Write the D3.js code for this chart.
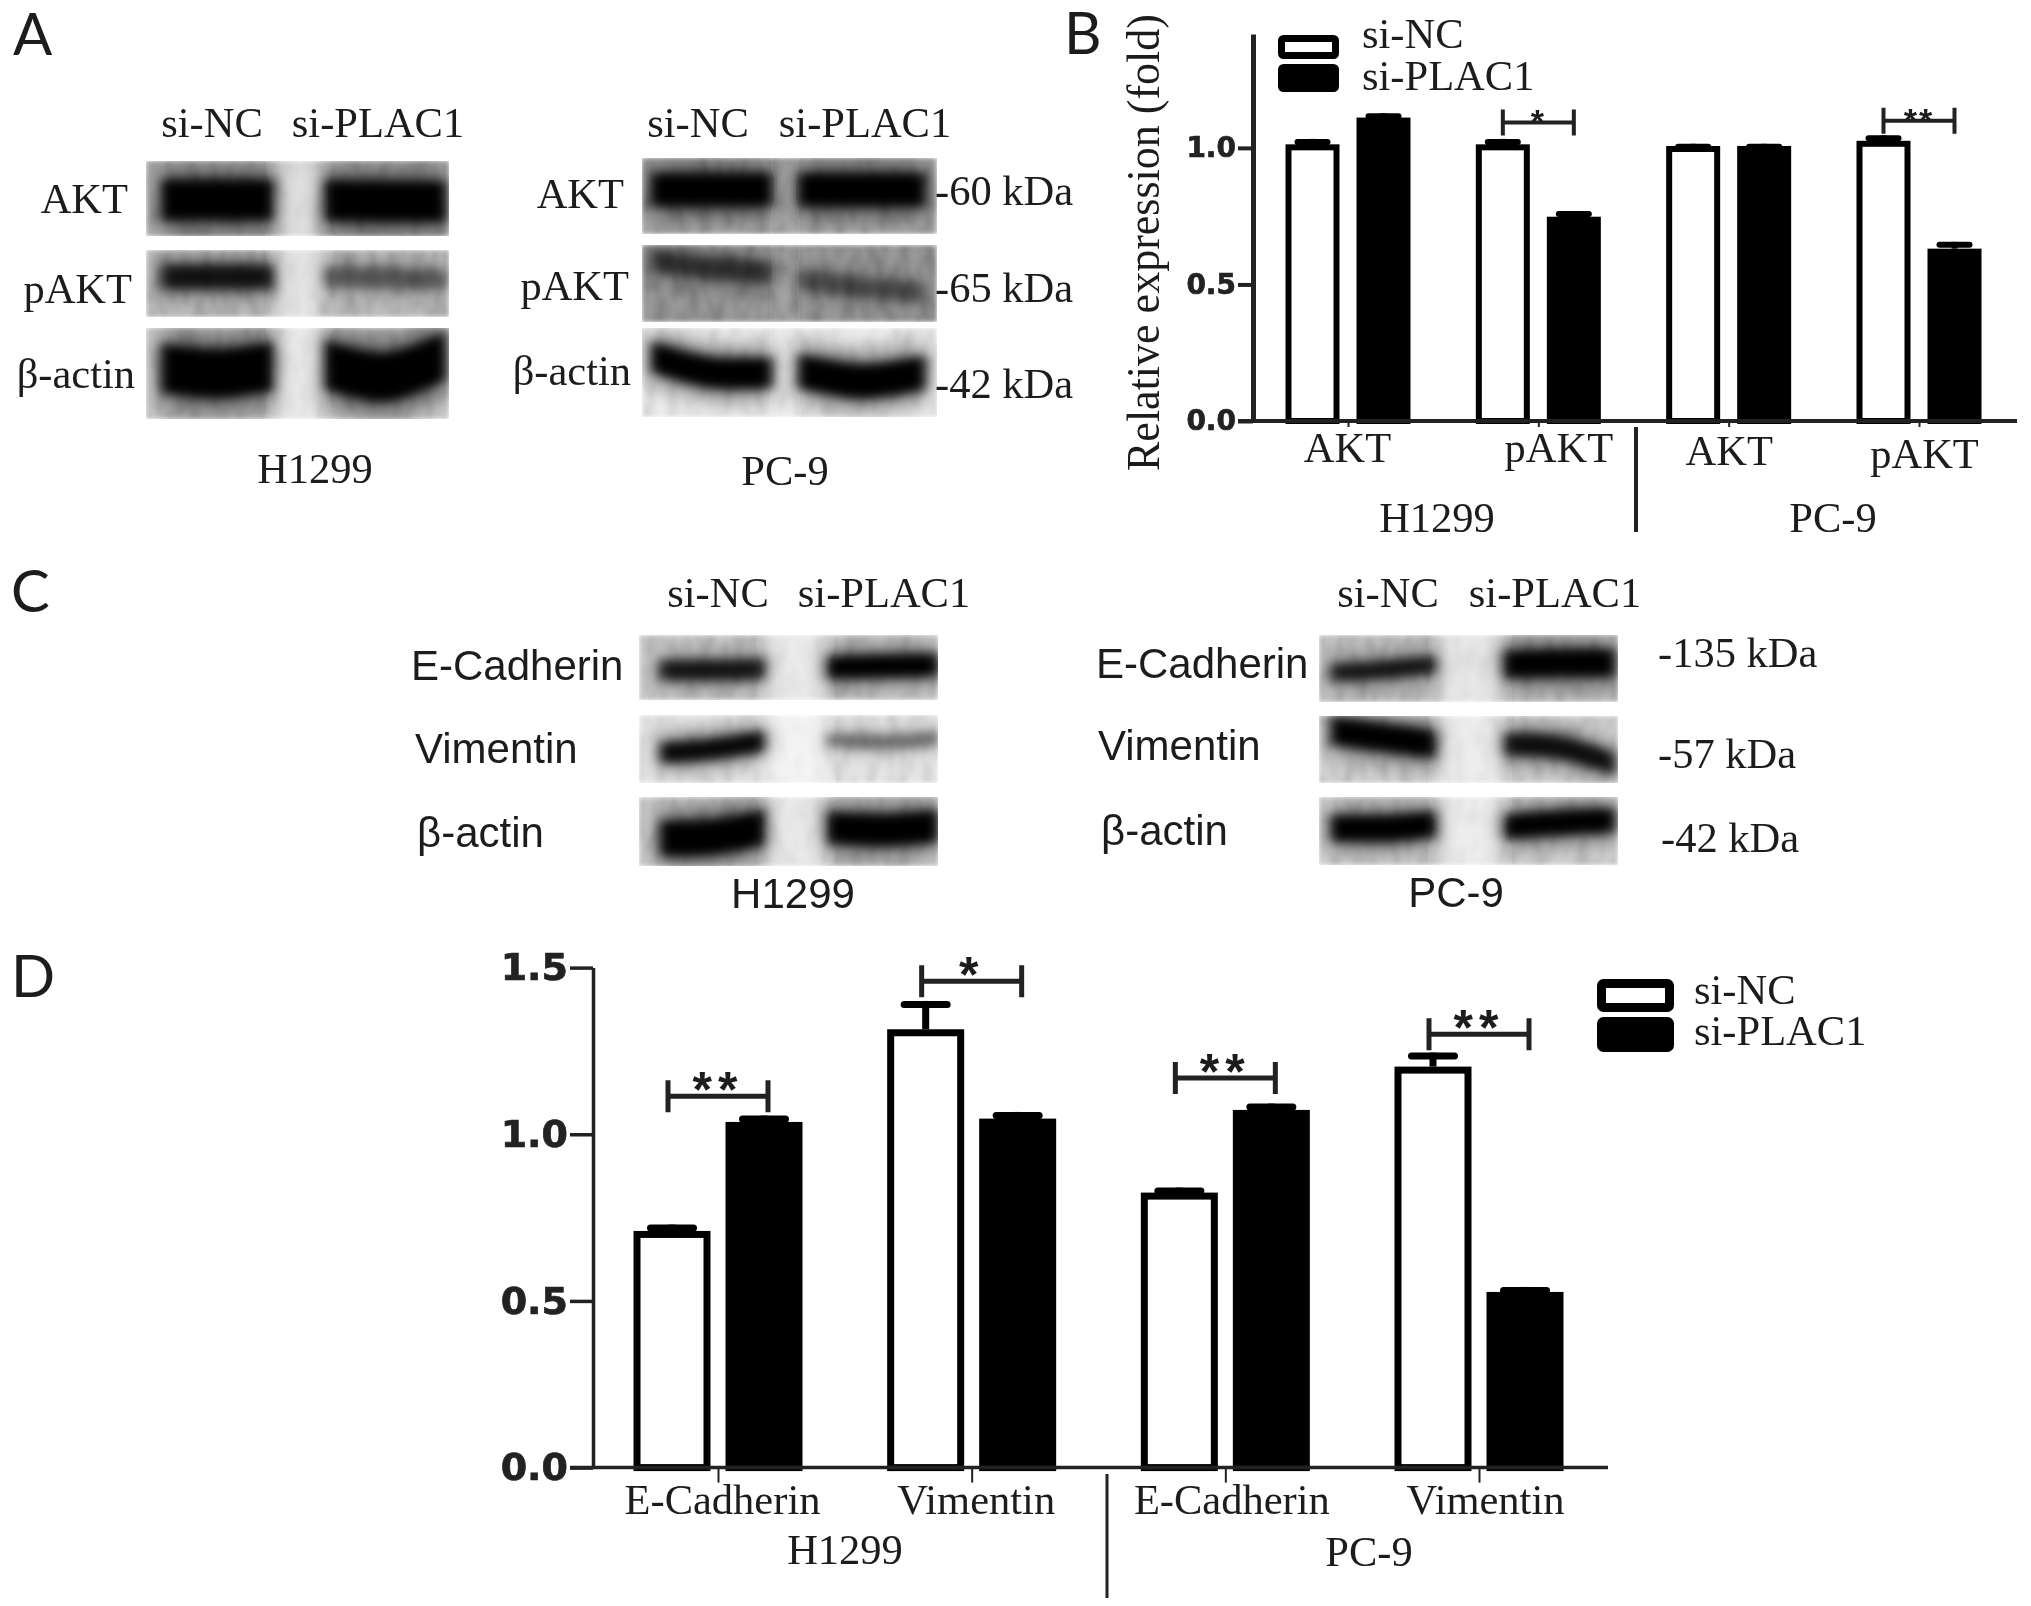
<!DOCTYPE html>
<html>
<head>
<meta charset="utf-8">
<title>PLAC1 knockdown</title>
<script src="https://d3js.org/d3.v7.min.js"></script>
<style>
	html, body { margin: 0; padding: 0; background: #fff; }
	svg { display: block; }
	text { fill: #1c1c1c; }
	.serif { font-family: "Liberation Serif", serif; font-size: 42.5px; }
	.sans { font-family: "Liberation Sans", sans-serif; font-size: 42px; }
	.letter { font-family: "Lato", sans-serif; font-size: 58px; }
	.tick text { font-family: "DejaVu Sans", sans-serif; font-weight: bold; fill: #222; stroke: #222; stroke-width: 0.7px; }
</style>
</head>
<body>
<svg width="2031" height="1606"></svg>
<script>
// ---- data ----
var series = ["si-NC", "si-PLAC1"];

// panel B
var groupsB = ["AKT", "pAKT", "AKT ", "pAKT "];
var nameB = [1.013, 1.013, 1.007, 1.026];
var plac1B = [1.111, 0.748, 1.007, 0.631];
var nameErrB = [0.020, 0.020, 0.008, 0.020];
var plac1ErrB = [0.016, 0.021, 0.008, 0.025];
var sigB = ["", "*", "", "**"];
var sigLevelB = [null, 1.093, null, 1.099];
var ticksB = [0, 0.5, 1];

// panel D
var groupsD = ["E-Cadherin", "Vimentin", "E-Cadherin ", "Vimentin "];
var nameD = [0.71, 1.315, 0.825, 1.203];
var plac1D = [1.037, 1.047, 1.073, 0.527];
var nameErrD = [0.019, 0.085, 0.015, 0.042];
var plac1ErrD = [0.019, 0.020, 0.019, 0.015];
var sigD = ["**", "*", "**", "**"];
var sigLevelD = [1.114, 1.459, 1.169, 1.30];
var ticksD = [0, 0.5, 1, 1.5];

// blot band density, rows x lanes (0-1), and membrane background per row
var densityA1 = [[1, 1], [0.85, 0.45], [1, 1]];
var backA1 = [0.30, 0.26, 0.20];
var densityA2 = [[1, 1], [0.6, 0.42], [1, 1]];
var backA2 = [0.34, 0.40, 0.08];
var densityC1 = [[0.85, 1], [0.95, 0.45], [1, 1]];
var backC1 = [0.20, 0.10, 0.20];
var densityC2 = [[0.85, 1], [1, 0.9], [1, 1]];
var backC2 = [0.24, 0.18, 0.18];

// ---- blot geometry: fractions of panel width / row height ----
// band = [laneStart, laneEnd, centreLeft, centreMid, centreRight, thickness]
var shapeA1 = [
	[[.05, .42, .52, .52, .52, .42], [.59, .99, .53, .54, .54, .42]],
	[[.05, .42, .40, .40, .40, .28], [.59, .99, .40, .42, .44, .24]],
	[[.05, .42, .44, .50, .42, .42], [.59, .99, .40, .54, .30, .42]]
];
var shapeA2 = [
	[[.03, .44, .42, .42, .42, .34], [.53, .96, .42, .42, .42, .34]],
	[[.03, .44, .20, .30, .36, .22], [.53, .96, .44, .55, .62, .20]],
	[[.03, .44, .32, .50, .50, .27], [.53, .96, .48, .60, .50, .30]]
];
var shapeC1 = [
	[[.07, .42, .54, .54, .52, .24], [.63, 1.0, .50, .48, .46, .27]],
	[[.07, .42, .56, .50, .38, .24], [.63, 1.0, .36, .40, .34, .16]],
	[[.07, .42, .60, .58, .44, .40], [.63, 1.0, .44, .48, .42, .36]]
];
var shapeC2 = [
	[[.04, .39, .56, .52, .44, .20], [.62, .99, .44, .42, .42, .32]],
	[[.04, .39, .22, .32, .42, .32], [.62, .99, .42, .47, .72, .26]],
	[[.04, .39, .46, .46, .40, .30], [.62, .99, .44, .38, .34, .28]]
];

var svg = d3.select("svg");
var root = svg.append("g").attr("filter", "url(#soft)");

// ---- filters ----
var defs = svg.append("defs");
function blurFilter(id, dev) {
	defs.append("filter").attr("id", id)
		.attr("x", "-30%").attr("y", "-80%").attr("width", "160%").attr("height", "260%")
		.append("feGaussianBlur").attr("stdDeviation", dev);
}
blurFilter("band", "6 5");
blurFilter("halo", "12 10");
blurFilter("edge", "2");
blurFilter("lane", "7 0");
defs.append("filter").attr("id", "soft")
	.attr("filterUnits", "userSpaceOnUse")
	.attr("x", 0).attr("y", 0).attr("width", 2031).attr("height", 1606)
	.append("feGaussianBlur").attr("stdDeviation", 0.6);

var grain = defs.append("filter").attr("id", "grain")
	.attr("x", 0).attr("y", 0).attr("width", "100%").attr("height", "100%");
grain.append("feTurbulence")
	.attr("type", "fractalNoise")
	.attr("baseFrequency", "0.09 0.04")
	.attr("numOctaves", 2)
	.attr("seed", 4);
grain.append("feColorMatrix")
	.attr("values", "0 0 0 0 0  0 0 0 0 0  0 0 0 0 0  1.6 0 0 0 -0.62");

// ---- western blots ----
var clipId = 0;
function drawBlot(x0, x1, rowEdges, density, back, shape, gapLight) {
	var fx = d3.scaleLinear().range([x0, x1]);
	var panel = root.append("g");

	var rows = panel.selectAll("g.row")
		.data(rowEdges)
		.enter().append("g")
		.attr("class", "row")
		.attr("filter", "url(#edge)");

	rows.each(function (edge, r) {
		var row = d3.select(this);
		var fy = d3.scaleLinear().range(edge);
		var id = "clip" + (clipId++);
		defs.append("clipPath").attr("id", id).append("rect")
			.attr("x", x0).attr("y", edge[0])
			.attr("width", x1 - x0).attr("height", edge[1] - edge[0]);
		row.attr("clip-path", "url(#" + id + ")");

		row.append("rect")
			.attr("x", x0).attr("y", edge[0])
			.attr("width", x1 - x0).attr("height", edge[1] - edge[0])
			.attr("fill", "#000")
			.attr("opacity", back[r]);
		row.append("rect")
			.attr("x", x0).attr("y", edge[0])
			.attr("width", x1 - x0).attr("height", edge[1] - edge[0])
			.attr("filter", "url(#grain)")
			.attr("opacity", 0.1 + back[r] * 0.5);

		// the empty space between the two lanes is paler than the membrane
		row.append("rect")
			.attr("x", fx(shape[r][0][1]) + 4)
			.attr("width", fx(shape[r][1][0]) - fx(shape[r][0][1]) - 8)
			.attr("y", edge[0]).attr("height", edge[1] - edge[0])
			.attr("fill", "#fff")
			.attr("opacity", gapLight)
			.attr("filter", "url(#lane)");

		shape[r].forEach(function (b, lane) {
			var pts = [[b[0], b[2]], [(b[0] + b[1]) / 2, b[3]], [b[1], b[4]]];
			var area = function (k) {
				return d3.area()
					.curve(d3.curveCatmullRom)
					.x(function (p) { return fx(p[0]); })
					.y0(function (p) { return fy(p[1] - b[5] * k / 2); })
					.y1(function (p) { return fy(p[1] + b[5] * k / 2); })(pts);
			};
			row.append("path")
				.attr("d", area(2.2))
				.attr("fill", "#000")
				.attr("opacity", density[r][lane] * 0.45)
				.attr("filter", "url(#halo)");
			row.append("path")
				.attr("d", area(1.3))
				.attr("fill", "#000")
				.attr("opacity", density[r][lane])
				.attr("filter", "url(#band)");
		});
	});
}

drawBlot(146, 449, [[161, 236], [250, 317], [328, 419]], densityA1, backA1, shapeA1, 0.6);
drawBlot(642, 937, [[158, 234], [245, 322], [328, 417]], densityA2, backA2, shapeA2, 0.15);
drawBlot(639, 938, [[635, 700], [715, 783], [797, 866]], densityC1, backC1, shapeC1, 0.6);
drawBlot(1319, 1618, [[635, 702], [716, 783], [797, 865]], densityC2, backC2, shapeC2, 0.6);

// ---- bar panels ----
function drawBars(c) {
	var g = root.append("g");
	var y = d3.scaleLinear().domain([0, c.top]).range([c.y0, c.yTop]);
	var x0 = d3.scalePoint().domain(c.groups).range(c.centres);
	var x1 = d3.scaleBand().domain(series)
		.range([-c.pair / 2, c.pair / 2])
		.paddingInner(c.gap / (c.bar + c.gap));
	var bw = x1.bandwidth();

	var bars = [];
	c.groups.forEach(function (name, i) {
		bars.push({ group: name, s: series[0], v: c.a[i], e: c.ea[i] });
		bars.push({ group: name, s: series[1], v: c.b[i], e: c.eb[i] });
	});

	var bar = g.selectAll("g.bar").data(bars).enter().append("g").attr("class", "bar")
		.attr("transform", function (d) {
			return "translate(" + (x0(d.group) + x1(d.s) + bw / 2) + ",0)";
		});

	// error bars go under the box outline
	bar.append("line")
		.attr("y1", function (d) { return y(d.v); })
		.attr("y2", function (d) { return y(d.v + d.e); })
		.attr("stroke", "#000").attr("stroke-width", c.stroke);
	bar.append("line")
		.attr("x1", -c.cap / 2).attr("x2", c.cap / 2)
		.attr("y1", function (d) { return y(d.v + d.e) + c.stroke / 2; })
		.attr("y2", function (d) { return y(d.v + d.e) + c.stroke / 2; })
		.attr("stroke", "#000").attr("stroke-width", c.stroke)
		.attr("stroke-linecap", "round");
	bar.append("rect")
		.attr("x", -bw / 2 + c.stroke / 2)
		.attr("width", bw - c.stroke)
		.attr("y", function (d) { return y(d.v) + c.stroke / 2; })
		.attr("height", function (d) { return y(0) - y(d.v) - c.stroke / 2; })
		.attr("fill", function (d) { return d.s == series[0] ? "#fff" : "#000"; })
		.attr("stroke", "#000")
		.attr("stroke-width", c.stroke);

	// significance brackets
	var sig = g.selectAll("g.sig")
		.data(c.groups.map(function (name, i) {
			return { group: name, label: c.sig[i], level: c.level[i] };
		}).filter(function (d) { return d.level != null; }))
		.enter().append("g").attr("class", "sig");
	sig.each(function (d) {
		var s = d3.select(this);
		var xa = x0(d.group) + x1(series[0]) + bw / 2 - c.sigSpread;
		var xb = x0(d.group) + x1(series[1]) + bw / 2 + c.sigSpread;
		var yy = y(d.level);
		s.append("path")
			.attr("d", "M" + xa + "," + (yy - c.sigTick) + "V" + (yy + c.sigTick) +
				"M" + xa + "," + yy + "H" + xb +
				"M" + xb + "," + (yy - c.sigTick) + "V" + (yy + c.sigTick))
			.attr("fill", "none").attr("stroke", "#222").attr("stroke-width", c.sigWidth);
		s.append("text")
			.attr("x", (xa + xb) / 2)
			.attr("y", yy + c.starDy)
			.attr("text-anchor", "middle")
			.attr("letter-spacing", c.starGap)
			.style("font-family", "'Liberation Sans', sans-serif")
			.style("font-weight", "bold")
			.style("font-size", c.starSize + "px")
			.text(d.label);
	});

	// axes
	var yAxis = g.append("g")
		.attr("transform", "translate(" + c.yx + ",0)")
		.call(d3.axisLeft(y).tickValues(c.ticks).tickFormat(d3.format(".1f"))
			.tickSize(c.tick).tickPadding(c.labelPad).tickSizeOuter(0));
	yAxis.select(".domain").attr("stroke", "#222").attr("stroke-width", c.axisY);
	yAxis.selectAll("line").attr("stroke", "#222").attr("stroke-width", c.axisX);
	yAxis.selectAll("text").style("font-size", c.tickFont + "px");

	var xAxis = g.append("g")
		.attr("transform", "translate(0," + c.y0 + ")")
		.call(d3.axisBottom(x0).tickSize(c.xTick).tickSizeOuter(0));
	xAxis.select(".domain").remove();
	xAxis.selectAll("line").attr("stroke", "#222").attr("stroke-width", 2);
	xAxis.selectAll("text")
		.attr("y", 0)
		.attr("dy", 0)
		.attr("transform", function (d, i) {
			return "translate(" + c.xLabel[i][0] + "," + c.xLabel[i][1] + ")";
		})
		.attr("class", "serif")
		.style("font-family", "'Liberation Serif', serif")
		.style("font-weight", "normal")
		.style("font-size", "42.5px")
		.style("stroke", "none")
		.style("fill", "#1c1c1c")
		.text(function (d) { return d.trim(); });
	g.append("line")
		.attr("x1", c.xStart).attr("x2", c.xEnd)
		.attr("y1", c.y0).attr("y2", c.y0)
		.attr("stroke", "#222").attr("stroke-width", c.axisX);
	g.append("line")
		.attr("x1", c.sep[0]).attr("x2", c.sep[0])
		.attr("y1", c.sep[1]).attr("y2", c.sep[2])
		.attr("stroke", "#222").attr("stroke-width", c.sep[3]);

	// legend
	var legend = g.selectAll("g.key").data(series).enter().append("g").attr("class", "key");
	legend.append("rect")
		.attr("x", c.key.x + c.key.stroke / 2)
		.attr("y", function (d, i) { return c.key.y[i] + c.key.stroke / 2; })
		.attr("width", c.key.w - c.key.stroke)
		.attr("height", function (d, i) { return c.key.h[i] - c.key.stroke; })
		.attr("rx", 2)
		.attr("fill", function (d, i) { return i ? "#000" : "#fff"; })
		.attr("stroke", "#000")
		.attr("stroke-width", c.key.stroke);
	legend.append("text")
		.attr("class", "serif")
		.attr("x", c.key.tx)
		.attr("y", function (d, i) { return c.key.ty[i]; })
		.text(function (d) { return d; });
}

drawBars({
	groups: groupsB, a: nameB, b: plac1B, ea: nameErrB, eb: plac1ErrB,
	sig: sigB, level: sigLevelB, ticks: ticksB,
	top: 1.417, y0: 421, yTop: 34, yx: 1253,
	centres: [1348, 1919], pair: 125, bar: 54, gap: 17, stroke: 6, cap: 30,
	sigSpread: 0, sigTick: 13, sigWidth: 4, starDy: 11, starGap: 2, starSize: 34,
	tick: 15, labelPad: 2, tickFont: 28, axisY: 5, axisX: 4, xTick: 6,
	xLabel: [[-1, 41], [20, 41], [0, 44], [5, 47]],
	xStart: 1238, xEnd: 2017, sep: [1636, 427, 532, 4]
	, key: { x: 1278, y: [35, 64], w: 61, h: [24, 28], stroke: 7, tx: 1362, ty: [48, 90] }
});

drawBars({
	groups: groupsD, a: nameD, b: plac1D, ea: nameErrD, eb: plac1ErrD,
	sig: sigD, level: sigLevelD, ticks: ticksD,
	top: 1.5, y0: 1467.6, yTop: 967.6, yx: 593,
	centres: [718, 1479], pair: 169, bar: 77, gap: 15, stroke: 7, cap: 43,
	sigSpread: 4, sigTick: 16, sigWidth: 5, starDy: 11, starGap: 6, starSize: 50,
	tick: 23, labelPad: 2, tickFont: 38, axisY: 3.5, axisX: 3.5, xTick: 15,
	xLabel: [[4, 46], [4, 46], [6, 46], [6, 46]],
	xStart: 570, xEnd: 1608, sep: [1107, 1474, 1598, 3],
	key: { x: 1597, y: [979, 1017], w: 77, h: [33, 35], stroke: 9, tx: 1694, ty: [1004, 1045] }
});

// ---- loose labels ----
// [text, x, y, anchor, class]
var labels = [
	["A", 13, 55, "start", "letter"], ["B", 1064, 54, "start", "letter"],
	["C", 11, 612, "start", "letter"], ["D", 11, 997, "start", "letter"],

	["si-NC", 212, 137, "middle", "serif"], ["si-PLAC1", 378, 137, "middle", "serif"],
	["si-NC", 698, 137, "middle", "serif"], ["si-PLAC1", 865, 137, "middle", "serif"],
	["AKT", 128, 213, "end", "serif"], ["pAKT", 132, 303, "end", "serif"], ["β-actin", 135, 388, "end", "serif"],
	["AKT", 624, 208, "end", "serif"], ["pAKT", 629, 300, "end", "serif"], ["β-actin", 631, 385, "end", "serif"],
	["-60 kDa", 935, 205, "start", "serif"], ["-65 kDa", 935, 302, "start", "serif"], ["-42 kDa", 935, 398, "start", "serif"],
	["H1299", 315, 483, "middle", "serif"], ["PC-9", 785, 485, "middle", "serif"],

	["H1299", 1437, 532, "middle", "serif"], ["PC-9", 1833, 532, "middle", "serif"],

	["si-NC", 718, 607, "middle", "serif"], ["si-PLAC1", 884, 607, "middle", "serif"],
	["si-NC", 1388, 607, "middle", "serif"], ["si-PLAC1", 1555, 607, "middle", "serif"],
	["E-Cadherin", 411, 680, "start", "sans"], ["Vimentin", 415, 763, "start", "sans"], ["β-actin", 417, 847, "start", "sans"],
	["E-Cadherin", 1096, 678, "start", "sans"], ["Vimentin", 1098, 760, "start", "sans"], ["β-actin", 1101, 845, "start", "sans"],
	["-135 kDa", 1658, 667, "start", "serif"], ["-57 kDa", 1658, 768, "start", "serif"], ["-42 kDa", 1661, 852, "start", "serif"],
	["H1299", 793, 908, "middle", "sans"], ["PC-9", 1456, 907, "middle", "sans"],

	["H1299", 845, 1564, "middle", "serif"], ["PC-9", 1369, 1566, "middle", "serif"]
];

root.selectAll("text.loose")
	.data(labels)
	.enter().append("text")
	.attr("class", function (d) { return d[4]; })
	.attr("x", function (d) { return d[1]; })
	.attr("y", function (d) { return d[2]; })
	.attr("text-anchor", function (d) { return d[3]; })
	.text(function (d) { return d[0]; });

// y title of panel B is stretched along its length in the source
root.append("text")
	.attr("class", "serif")
	.attr("transform", "translate(1159,471) rotate(-90)")
	.attr("textLength", 457)
	.attr("lengthAdjust", "spacingAndGlyphs")
	.style("font-size", "46px")
	.text("Relative expression (fold)");
</script>
</body>
</html>
